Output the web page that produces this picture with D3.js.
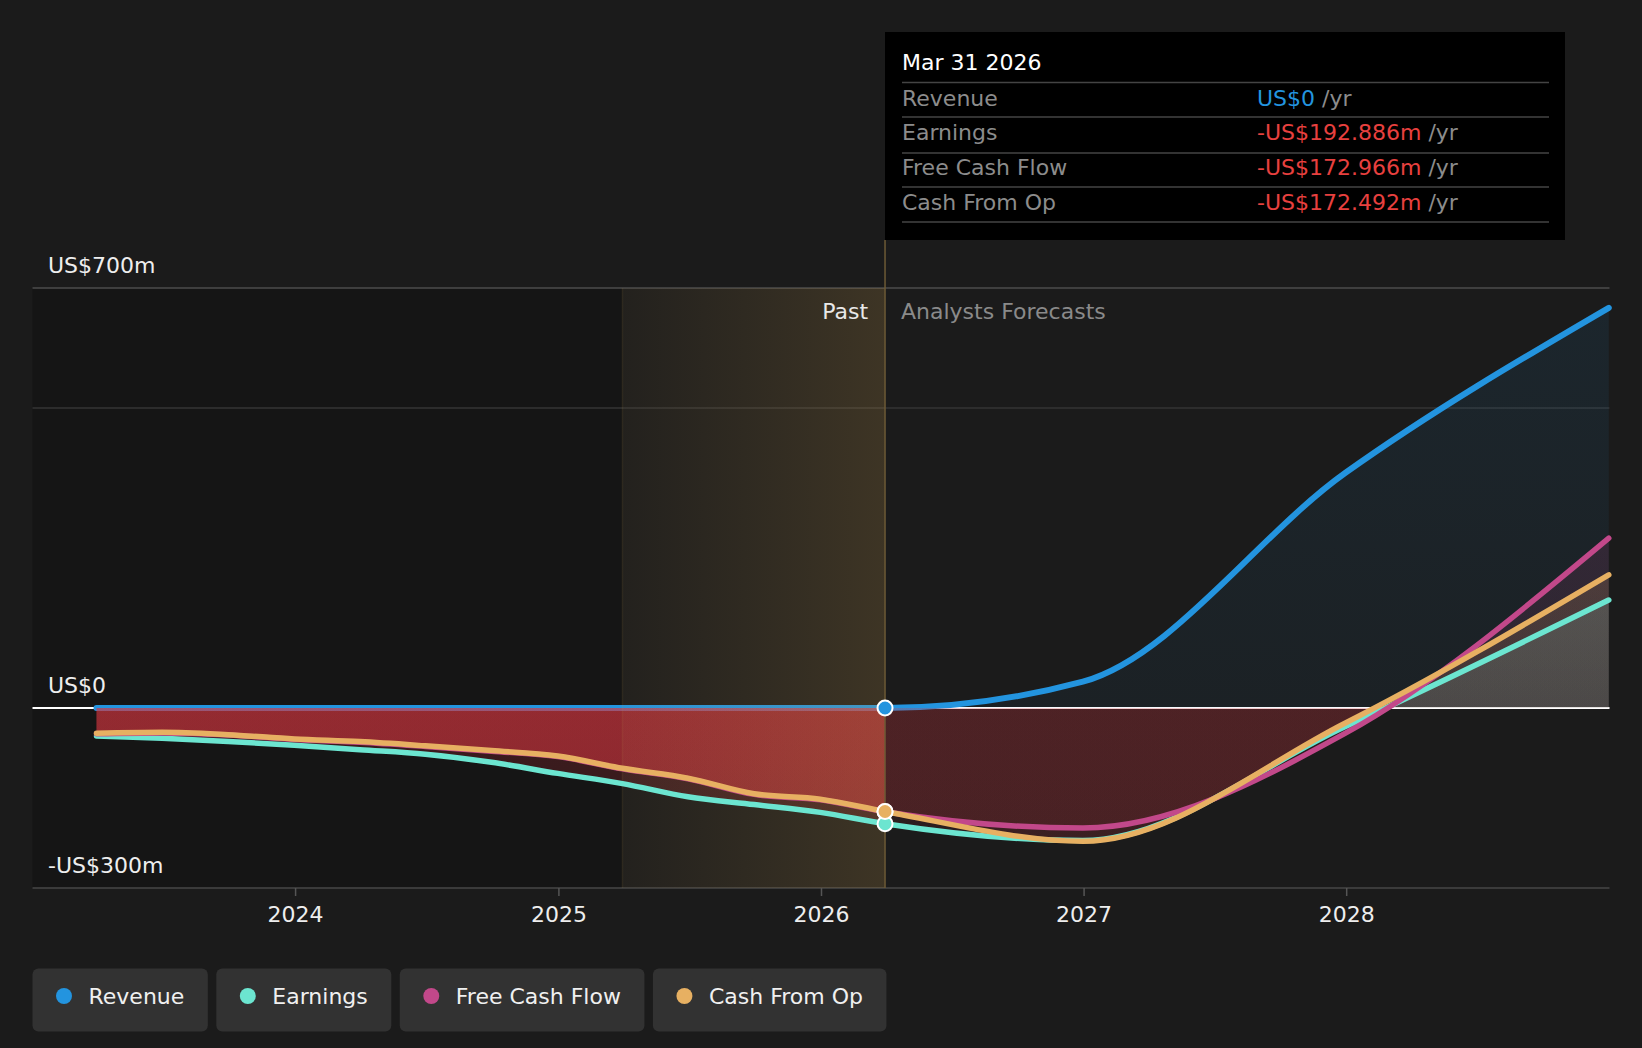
<!DOCTYPE html>
<html><head><meta charset="utf-8">
<script src="https://cdn.jsdelivr.net/npm/d3@7"></script>
<style>
html,body{margin:0;padding:0;background:#1b1b1b;overflow:hidden;}
svg{display:block;font-family:"DejaVu Sans",sans-serif;}
</style>
</head><body>
<svg id="chart" width="1642" height="1048"></svg>
<script>
// ---------- DATA ----------
const pastDates = ["2023-03-31","2023-06-30","2023-09-30","2023-12-31","2024-03-31","2024-06-30","2024-09-30","2024-12-31","2025-03-31","2025-06-30","2025-09-30","2025-12-31","2026-03-31"];
const forecastDates = ["2026-12-31","2027-12-31","2028-12-31"];

const revenuePast   = [0,0,0,0,0,0,0,0,0,0,0,0,0];
const revenueFcst   = [44, 392, 667];
const earningsPast  = [-46.7,-50.5,-56,-62,-69.5,-77,-90.5,-109,-126,-148,-161,-174,-192.886];
const earningsFcst  = [-221, -31, 180];
const fcfPast       = [-43,-41.5,-45,-52.5,-57,-64,-72,-81,-101.5,-118,-144,-153,-172.966];
const fcfFcst       = [-200, -42, 283];
const cfoPast       = [-42,-40.5,-44.5,-51.5,-56,-63,-71,-80,-100.5,-117,-143,-152,-172.492];
const cfoFcst       = [-222, -25, 222];

const yTickValues = [700, 0, -300];
const yTickLabels = ["US$700m", "US$0", "-US$300m"];
const gridValues = [700, 500];
const xTickYears = [2024, 2025, 2026, 2027, 2028];

const seriesNames  = ["Revenue", "Earnings", "Free Cash Flow", "Cash From Op"];
const seriesColors = ["#2394df", "#6ce5d0", "#c2488a", "#e7b062"];

const tooltipTitle = "Mar 31 2026";
const tooltipValues = ["US$0", "-US$192.886m", "-US$172.966m", "-US$172.492m"];
const tooltipValueColors = ["#2394df", "#e8403f", "#e8403f", "#e8403f"];

// ---------- SETUP ----------
const parse = d3.timeParse("%Y-%m-%d");
const dates = pastDates.concat(forecastDates).map(parse);
const presentDate = parse("2026-03-31");
const bandStartDate = parse("2025-03-31");

function build(p, f) { return p.concat(f).map((v, i) => ({date: dates[i], value: v})); }
const series = [
  build(revenuePast, revenueFcst),
  build(earningsPast, earningsFcst),
  build(fcfPast, fcfFcst),
  build(cfoPast, cfoFcst)
];

const W = 1642, H = 1048;
const x = d3.scaleTime().domain([new Date(2023,0,1), new Date(2029,0,1)]).range([32.5, 1609.5]);
const y = d3.scaleLinear().domain([-300, 700]).range([888, 288]);
const FS = 22;

const svg = d3.select("#chart");
const defs = svg.append("defs");

svg.append("rect").attr("width", W).attr("height", H).attr("fill", "#1b1b1b");

const xL = x.range()[0], xR = x.range()[1];
const xNow = x(presentDate), xBand = x(bandStartDate);
const yTop = y(700), yBot = y(-300), y0 = y(0);

// past darker region
svg.append("rect").attr("x", xL).attr("y", yTop).attr("width", xBand - xL).attr("height", yBot - yTop).attr("fill", "#151515");

// gridlines
svg.selectAll(".grid").data(gridValues).enter().append("line")
  .attr("x1", xL).attr("x2", xR).attr("y1", d => y(d)).attr("y2", d => y(d))
  .attr("stroke", (d, i) => i === 0 ? "#4c4c4c" : "#343434").attr("stroke-width", 1.5);
svg.append("line").attr("x1", xL).attr("x2", xR).attr("y1", yBot).attr("y2", yBot)
  .attr("stroke", "#474747").attr("stroke-width", 1.5);

// zero line
svg.append("line").attr("x1", xL).attr("x2", xR).attr("y1", y0).attr("y2", y0)
  .attr("stroke", "#ffffff").attr("stroke-width", 2);

const line = d3.line().x(d => x(d.date)).y(d => y(d.value)).curve(d3.curveMonotoneX);
const area = d3.area().x(d => x(d.date)).y0(y(0)).y1(d => y(d.value)).curve(d3.curveMonotoneX);

// revenue line first (areas tint it)
svg.append("path").datum(series[0]).attr("d", line).attr("fill", "none")
  .attr("stroke", seriesColors[0]).attr("stroke-width", 6).attr("stroke-linecap", "round");

// clip paths
function clip(id, x0, x1, ya, yb) {
  defs.append("clipPath").attr("id", id).append("rect")
    .attr("x", x0).attr("y", ya).attr("width", x1 - x0).attr("height", yb - ya);
}
clip("pastNeg", xL, xNow, y0, yBot);
clip("futNeg", xNow, xR, y0, yBot);
clip("futPos", xNow, xR, yTop - 40, y0);

function grad(id, color, aTop, aBot) {
  const g = defs.append("linearGradient").attr("id", id).attr("x1", 0).attr("y1", 0).attr("x2", 0).attr("y2", 1);
  g.append("stop").attr("offset", "0%").attr("stop-color", color).attr("stop-opacity", aTop);
  g.append("stop").attr("offset", "100%").attr("stop-color", color).attr("stop-opacity", aBot);
}
const red = "#d6353f";
grad("gPastNegE", red, 0.22, 0.18);
grad("gPastNegF", red, 0.40, 0.30);
grad("gFutNeg", red, 0.11, 0.09);
grad("gPosRev", "#2394df", 0.09, 0.05);
grad("gPosE", "#90dcd0", 0.15, 0.08);
grad("gPosF", "#c2488a", 0.14, 0.08);
grad("gPosC", "#e7b062", 0.15, 0.08);

const areaLayers = [
  {s: 0, clip: "futPos", fill: "gPosRev"},
  {s: 2, clip: "futPos", fill: "gPosF"},
  {s: 3, clip: "futPos", fill: "gPosC"},
  {s: 1, clip: "futPos", fill: "gPosE"},
  {s: 1, clip: "pastNeg", fill: "gPastNegE"},
  {s: 2, clip: "pastNeg", fill: "gPastNegF"},
  {s: 3, clip: "pastNeg", fill: "gPastNegF"},
  {s: 1, clip: "futNeg", fill: "gFutNeg"},
  {s: 2, clip: "futNeg", fill: "gFutNeg"},
  {s: 3, clip: "futNeg", fill: "gFutNeg"}
];
areaLayers.forEach(l => {
  svg.append("g").attr("clip-path", `url(#${l.clip})`)
    .append("path").datum(series[l.s]).attr("d", area).attr("fill", `url(#${l.fill})`);
});

// highlighted band overlay
const bg = defs.append("linearGradient").attr("id", "band").attr("x1", 0).attr("y1", 0).attr("x2", 1).attr("y2", 0);
bg.append("stop").attr("offset", "0%").attr("stop-color", "#be9650").attr("stop-opacity", 0.05);
bg.append("stop").attr("offset", "100%").attr("stop-color", "#c89b4b").attr("stop-opacity", 0.2);
svg.append("rect").attr("x", xBand).attr("y", yTop).attr("width", xNow - xBand).attr("height", yBot - yTop).attr("fill", "url(#band)");
svg.append("line").attr("x1", xBand).attr("x2", xBand).attr("y1", yTop).attr("y2", yBot)
  .attr("stroke", "#c89b4b").attr("stroke-opacity", 0.1).attr("stroke-width", 1.5);
svg.append("line").attr("x1", xNow).attr("x2", xNow).attr("y1", 240).attr("y2", yBot)
  .attr("stroke", "#6d5a35").attr("stroke-width", 1.5);

// other lines
[1, 2, 3].forEach(i => {
  svg.append("path").datum(series[i]).attr("d", line).attr("fill", "none")
    .attr("stroke", seriesColors[i]).attr("stroke-width", 5.5).attr("stroke-linecap", "round");
});

// present dots
[0, 2, 1, 3].forEach(i => {
  const pt = series[i].find(d => +d.date === +presentDate);
  svg.append("circle").attr("cx", x(pt.date)).attr("cy", y(pt.value)).attr("r", 7.5)
    .attr("fill", seriesColors[i]).attr("stroke", "#ffffff").attr("stroke-width", 2);
});

// y labels
svg.selectAll(".ylab").data(yTickValues).enter().append("text")
  .attr("x", 48).attr("y", d => y(d) - 15).attr("fill", "#eeeeee").attr("font-size", FS)
  .text((d, i) => yTickLabels[i]);

// x axis
const xAxis = d3.axisBottom(x).tickValues(xTickYears.map(yr => new Date(yr, 0, 1)))
  .tickFormat(d3.timeFormat("%Y")).tickSize(8).tickPadding(10.5);
const gx = svg.append("g").attr("transform", `translate(0,${yBot})`).call(xAxis);
gx.select(".domain").remove();
gx.selectAll(".tick line").attr("stroke", "#555555").attr("stroke-width", 1.5);
gx.selectAll(".tick text").attr("fill", "#eeeeee").attr("font-size", FS).attr("font-family", "DejaVu Sans, sans-serif");

// Past / Forecast labels
svg.append("text").attr("x", xNow - 17).attr("y", 319).attr("text-anchor", "end")
  .attr("fill", "#e8e8e8").attr("font-size", FS).text("Past");
svg.append("text").attr("x", xNow + 16).attr("y", 319)
  .attr("fill", "#8a8a8a").attr("font-size", FS).text("Analysts Forecasts");

// tooltip
const tt = svg.append("g");
tt.append("rect").attr("x", xNow).attr("y", 32).attr("width", 1565 - xNow).attr("height", 208).attr("fill", "#000000");
tt.append("text").attr("x", 902).attr("y", 70).attr("fill", "#ffffff").attr("font-size", FS).text(tooltipTitle);
const sepY = [82.5, 117, 153, 187, 222];
tt.selectAll(".sep").data(sepY).enter().append("line")
  .attr("x1", 902).attr("x2", 1549).attr("y1", d => d).attr("y2", d => d)
  .attr("stroke", "#444444").attr("stroke-width", 1.5);
const rowBase = [106, 139.5, 175, 209.5];
seriesNames.forEach((name, i) => {
  tt.append("text").attr("x", 902).attr("y", rowBase[i]).attr("fill", "#8c8c8c").attr("font-size", FS).text(name);
  const t = tt.append("text").attr("x", 1257).attr("y", rowBase[i]).attr("font-size", FS);
  t.append("tspan").attr("fill", tooltipValueColors[i]).text(tooltipValues[i]);
  t.append("tspan").attr("fill", "#8c8c8c").text(" /yr");
});

// legend
let lx = 32.5;
seriesNames.forEach((name, i) => {
  const g = svg.append("g").attr("transform", `translate(${lx},968.5)`);
  const rect = g.append("rect").attr("height", 63).attr("rx", 6).attr("fill", "#323232");
  g.append("circle").attr("cx", 31.5).attr("cy", 27.5).attr("r", 8).attr("fill", seriesColors[i]);
  const t = g.append("text").attr("x", 56).attr("y", 35.5).attr("fill", "#f0f0f0").attr("font-size", FS).text(name);
  const w = 56 + t.node().getComputedTextLength() + 23.5;
  rect.attr("width", w);
  lx += w + 8.5;
});
</script>
</body></html>
